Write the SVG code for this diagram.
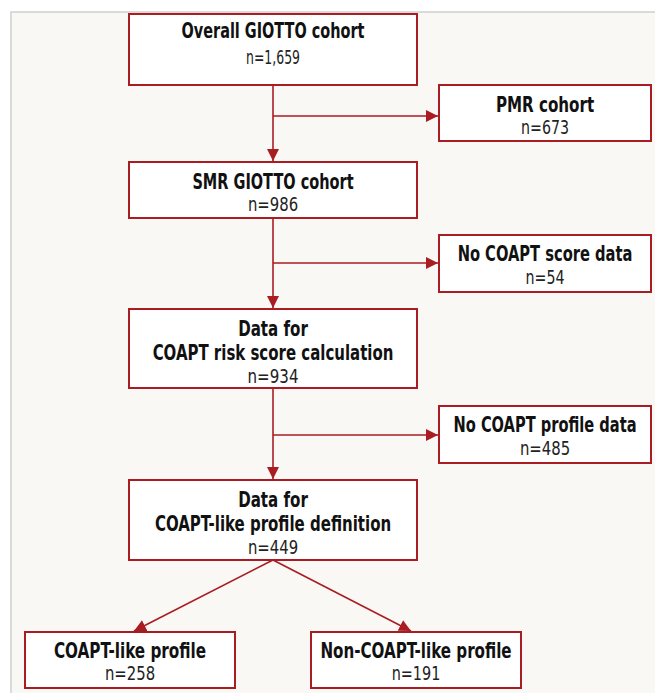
<svg xmlns="http://www.w3.org/2000/svg" width="655" height="693" viewBox="0 0 655 693">
<style>
.box{fill:#fff;stroke:#a91d22;stroke-width:2}
.t{font-family:"DejaVu Sans Condensed","DejaVu Sans",sans-serif;font-stretch:condensed;font-weight:bold;font-size:21px;fill:#111;text-anchor:middle}
.n{font-family:"DejaVu Sans Condensed","DejaVu Sans",sans-serif;font-stretch:condensed;font-size:20px;fill:#222;text-anchor:middle}
.ln{fill:none;stroke:#a91d22;stroke-width:1.6}
</style>
<defs>
<marker id="ah2" viewBox="0 0 10 10" refX="10" refY="5" markerWidth="12" markerHeight="12" markerUnits="userSpaceOnUse" orient="auto">
<path d="M0,0 L10,5 L0,10 z" fill="#a91d22"/>
</marker>
</defs>
<rect x="11" y="12" width="660" height="700" fill="#f9f8f5" stroke="#cfcfcf" stroke-width="1.5"/>
<g id="connectors">
<path class="ln" d="M273,85 V161" marker-end="url(#ah2)"/>
<path class="ln" d="M273,116 H438" marker-end="url(#ah2)"/>
<path class="ln" d="M273,218 V308" marker-end="url(#ah2)"/>
<path class="ln" d="M273,263 H438" marker-end="url(#ah2)"/>
<path class="ln" d="M273,388 V479" marker-end="url(#ah2)"/>
<path class="ln" d="M273,435 H438" marker-end="url(#ah2)"/>
<path class="ln" d="M273,560 L134,631" marker-end="url(#ah2)"/>
<path class="ln" d="M273,560 L411,631" marker-end="url(#ah2)"/>
</g>
<g id="overall"><rect class="box" x="129" y="14" width="288" height="71"/>
<text class="t" transform="translate(273,38) scale(0.75,1)" textLength="244" lengthAdjust="spacingAndGlyphs">Overall GIOTTO cohort</text><text class="n" transform="translate(273,64) scale(0.75,1)" textLength="72" lengthAdjust="spacingAndGlyphs">n=1,659</text></g>
<g id="pmr"><rect class="box" x="439" y="85" width="212" height="56"/>
<text class="t" transform="translate(545,112) scale(0.75,1)" textLength="131" lengthAdjust="spacingAndGlyphs">PMR cohort</text><text class="n" transform="translate(545,134) scale(0.75,1)" textLength="64" lengthAdjust="spacingAndGlyphs">n=673</text></g>
<g id="smr"><rect class="box" x="129" y="162" width="288" height="56"/>
<text class="t" transform="translate(273,189) scale(0.75,1)" textLength="215" lengthAdjust="spacingAndGlyphs">SMR GIOTTO cohort</text><text class="n" transform="translate(273,211) scale(0.75,1)" textLength="67" lengthAdjust="spacingAndGlyphs">n=986</text></g>
<g id="noscore"><rect class="box" x="439" y="235" width="212" height="57"/>
<text class="t" transform="translate(545,261) scale(0.75,1)" textLength="233" lengthAdjust="spacingAndGlyphs">No COAPT score data</text><text class="n" transform="translate(545,284) scale(0.75,1)" textLength="52" lengthAdjust="spacingAndGlyphs">n=54</text></g>
<g id="riskscore"><rect class="box" x="129" y="309" width="288" height="79"/>
<text class="t" transform="translate(273,336) scale(0.75,1)" textLength="93" lengthAdjust="spacingAndGlyphs">Data for</text><text class="t" transform="translate(273,360) scale(0.75,1)" textLength="321" lengthAdjust="spacingAndGlyphs">COAPT risk score calculation</text><text class="n" transform="translate(273,383) scale(0.75,1)" textLength="68" lengthAdjust="spacingAndGlyphs">n=934</text></g>
<g id="noprofile"><rect class="box" x="439" y="406" width="212" height="57"/>
<text class="t" transform="translate(545,432) scale(0.75,1)" textLength="244" lengthAdjust="spacingAndGlyphs">No COAPT profile data</text><text class="n" transform="translate(545,455) scale(0.75,1)" textLength="67" lengthAdjust="spacingAndGlyphs">n=485</text></g>
<g id="profiledef"><rect class="box" x="129" y="480" width="288" height="80"/>
<text class="t" transform="translate(273,507) scale(0.75,1)" textLength="93" lengthAdjust="spacingAndGlyphs">Data for</text><text class="t" transform="translate(273,531) scale(0.75,1)" textLength="315" lengthAdjust="spacingAndGlyphs">COAPT-like profile definition</text><text class="n" transform="translate(273,554) scale(0.75,1)" textLength="67" lengthAdjust="spacingAndGlyphs">n=449</text></g>
<g id="coaptlike"><rect class="box" x="25" y="632" width="210" height="56"/>
<text class="t" transform="translate(130,658) scale(0.75,1)" textLength="203" lengthAdjust="spacingAndGlyphs">COAPT-like profile</text><text class="n" transform="translate(130,680) scale(0.75,1)" textLength="67" lengthAdjust="spacingAndGlyphs">n=258</text></g>
<g id="noncoaptlike"><rect class="box" x="311" y="632" width="210" height="56"/>
<text class="t" transform="translate(416,658) scale(0.75,1)" textLength="255" lengthAdjust="spacingAndGlyphs">Non-COAPT-like profile</text><text class="n" transform="translate(416,680) scale(0.75,1)" textLength="65" lengthAdjust="spacingAndGlyphs">n=191</text></g>
</svg>
